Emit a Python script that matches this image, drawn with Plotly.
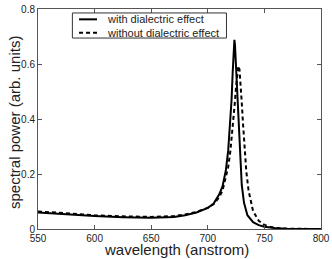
import plotly.graph_objects as go

series_names = ["with dialectric effect", "without dialectric effect"]

wl_with = [550, 575, 600, 625, 650, 670, 680, 690, 700, 705, 710, 713, 716, 718, 720, 721, 722, 723, 723.5, 724, 725, 726, 727, 728, 729, 730, 732, 735, 740, 745, 750, 760, 770, 780, 800]
p_with = [0.060, 0.053, 0.047, 0.043, 0.041, 0.044, 0.050, 0.060, 0.077, 0.092, 0.125, 0.155, 0.215, 0.285, 0.390, 0.470, 0.570, 0.660, 0.688, 0.670, 0.590, 0.480, 0.380, 0.300, 0.220, 0.160, 0.095, 0.050, 0.025, 0.014, 0.008, 0.003, 0.001, 0.000, 0.000]

wl_without = [550, 575, 600, 625, 650, 670, 680, 690, 700, 705, 710, 713, 716, 718, 720, 722, 723, 724, 725, 726, 727, 728, 729, 730, 731, 732, 734, 736, 738, 740, 745, 750, 755, 760, 770, 780, 800]
p_without = [0.064, 0.056, 0.050, 0.046, 0.044, 0.047, 0.053, 0.062, 0.077, 0.090, 0.115, 0.140, 0.185, 0.225, 0.285, 0.365, 0.415, 0.465, 0.520, 0.570, 0.593, 0.580, 0.530, 0.460, 0.390, 0.320, 0.210, 0.140, 0.095, 0.065, 0.030, 0.015, 0.008, 0.004, 0.001, 0.000, 0.000]

x_ticks = [550, 600, 650, 700, 750, 800]
y_ticks = [0, 0.2, 0.4, 0.6, 0.8]
y_tick_labels = ["0", "0.2", "0.4", "0.6", "0.8"]

font = "Liberation Sans, Arial, sans-serif"
dash_style = "4px,3px"

fig = go.Figure()
fig.add_trace(go.Scatter(x=wl_with, y=p_with, mode="lines", name=series_names[0],
                         line=dict(color="black", width=2)))
fig.add_trace(go.Scatter(x=wl_without, y=p_without, mode="lines", name=series_names[1],
                         line=dict(color="black", width=2, dash=dash_style)))

# hand-made legend box (matches the compact MATLAB-style legend)
leg_x0, leg_x1, leg_y0, leg_y1 = 0.1215, 0.666, 0.868, 0.982
row_y = [0.953, 0.892]
sample_x0, sample_x1, text_x = 0.145, 0.2085, 0.2367
shapes = [dict(type="rect", xref="paper", yref="paper", x0=leg_x0, x1=leg_x1, y0=leg_y0, y1=leg_y1,
               line=dict(color="#333", width=1), fillcolor="white", layer="above")]
annotations = []
for i, name in enumerate(series_names):
    shapes.append(dict(type="line", xref="paper", yref="paper", x0=sample_x0, x1=sample_x1,
                       y0=row_y[i], y1=row_y[i], layer="above",
                       line=dict(color="black", width=2, dash="solid" if i == 0 else dash_style)))
    annotations.append(dict(text=name, xref="paper", yref="paper", x=text_x, y=row_y[i],
                            xanchor="left", yanchor="middle", showarrow=False,
                            font=dict(family=font, size=11, color="#222")))

annotations.append(dict(text="wavelength (anstrom)", xref="paper", yref="paper", x=0.49, y=-0.094,
                        xanchor="center", yanchor="middle", showarrow=False,
                        font=dict(family=font, size=15, color="#222")))
annotations.append(dict(text="spectral power (arb. units)", xref="paper", yref="paper", x=-0.085, y=0.486,
                        xanchor="center", yanchor="middle", showarrow=False, textangle=-90,
                        font=dict(family=font, size=15, color="#222")))

axis_common = dict(showgrid=False, zeroline=False, showline=True, linecolor="#555",
                   linewidth=1, mirror="ticks", ticks="inside", ticklen=4, tickcolor="#555",
                   tickfont=dict(family=font, size=10, color="#222"))
fig.update_layout(
    width=332, height=259,
    margin=dict(l=38, r=11, t=9, b=30),
    paper_bgcolor="white", plot_bgcolor="white",
    font=dict(family=font, color="#222"),
    showlegend=False,
    hovermode=False,
    shapes=shapes,
    annotations=annotations,
    xaxis=dict(range=[550, 800], tickvals=x_ticks, automargin=False, **axis_common),
    yaxis=dict(range=[0, 0.8], tickvals=y_ticks, ticktext=y_tick_labels, automargin=False, **axis_common),
)
fig.write_html("out.html", config={"displayModeBar": False, "staticPlot": True},
               post_script="document.body.style.margin='0';document.body.style.overflow='hidden';")
